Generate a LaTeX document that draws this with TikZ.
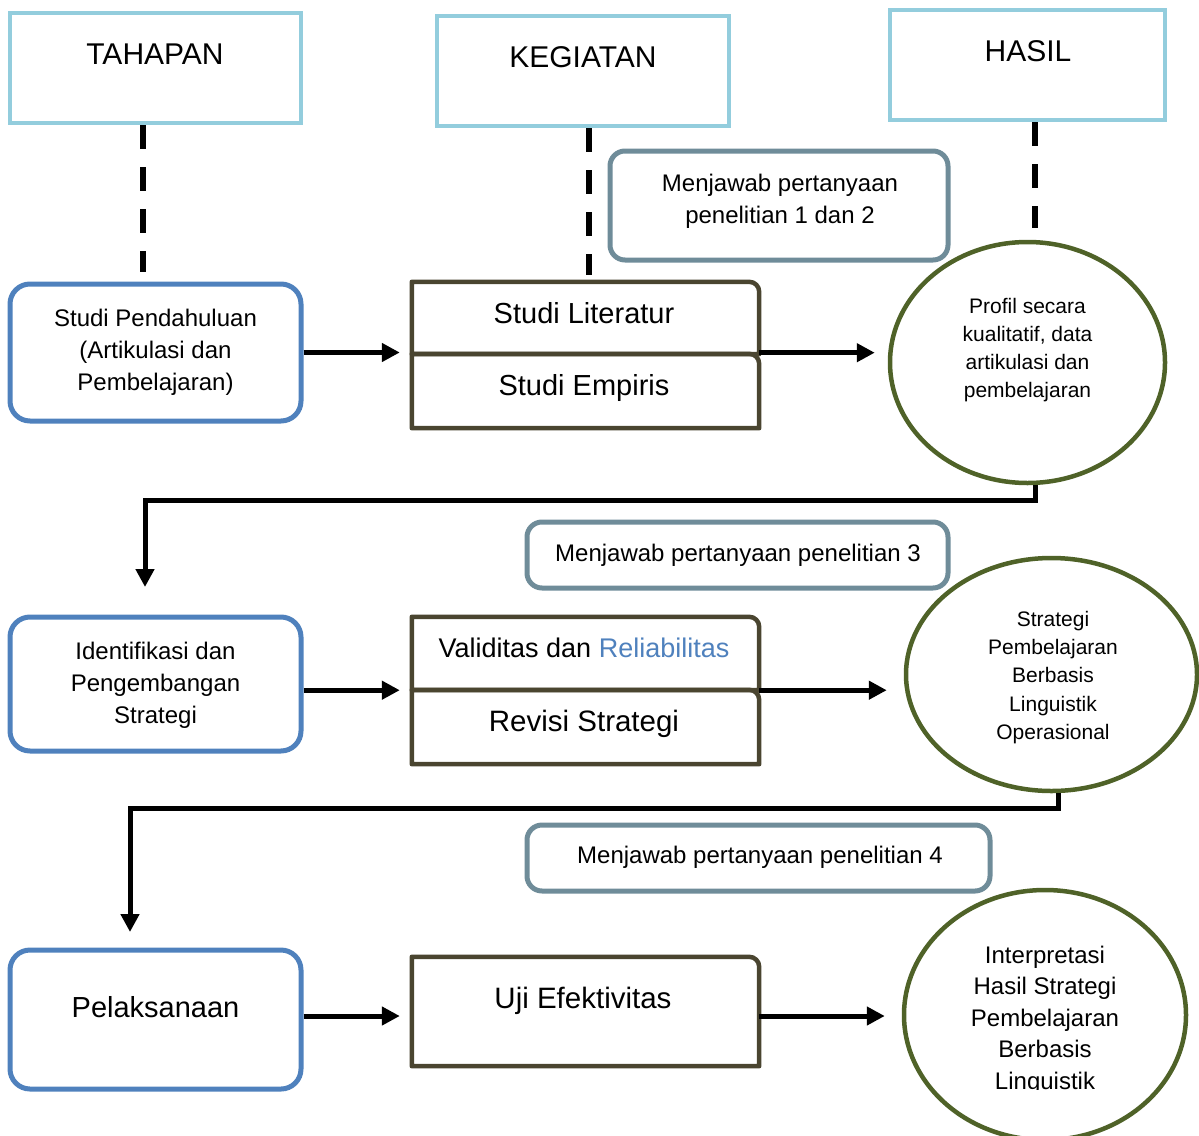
\documentclass[tikz,border=0pt]{standalone}
\usepackage{fontspec}
\setmainfont{Liberation Sans}
\usetikzlibrary{arrows.meta,shapes.geometric}
\definecolor{hdrblue}{HTML}{93CDDD}
\definecolor{boxblue}{HTML}{4F81BD}
\definecolor{qgray}{HTML}{6F8C99}
\definecolor{brn}{HTML}{4A4530}
\definecolor{olive}{HTML}{4F6228}
\definecolor{relblue}{HTML}{4F81BD}
\tikzset{
  hdr/.style={draw=hdrblue, line width=4pt, inner sep=0pt},
  stagebox/.style={draw=boxblue, line width=5pt, rounded corners=20pt, inner sep=0pt},
  qbox/.style={draw=qgray, line width=5pt, rounded corners=15pt, inner sep=0pt},
  actbox/.style={inner sep=0pt},
  actline/.style={draw=brn, line width=4.5pt, line join=round},
  result/.style={draw=olive, line width=4.5pt, ellipse, inner sep=0pt},
  txt/.style={inner sep=0pt, align=center},
  f30/.style={font=\fontsize{30}{35}\selectfont},
  f29/.style={font=\fontsize{29}{35}\selectfont},
  f24/.style={font=\fontsize{24}{32}\selectfont},
  f21/.style={font=\fontsize{21}{28.2}\selectfont},
  e24/.style={font=\fontsize{24}{31.5}\selectfont},
  dashline/.style={line width=6pt, dash pattern=on 24pt off 18pt},
  arr/.style={line width=5pt, -{Triangle[length=18pt,width=18pt]}},
}
\begin{document}
\begin{tikzpicture}[x=1pt,y=-1pt]
\useasboundingbox (0,0) rectangle (1199,1135);
\clip (0,0) rectangle (1199,1135);

% headers
\node[hdr, minimum width=291pt, minimum height=110pt] (tah) at (155.5,68) {};
\node[txt, f30] (tahT) at (155,54) {TAHAPAN};
\node[hdr, minimum width=292pt, minimum height=110pt] (keg) at (583,71) {};
\node[txt, f30] (kegT) at (583,57) {KEGIATAN};
\node[hdr, minimum width=275pt, minimum height=110pt] (has) at (1027.5,65) {};
\node[txt, f30] (hasT) at (1028,51) {HASIL};

% stage boxes
\node[stagebox, minimum width=291pt, minimum height=137pt] (pend) at (155.5,352.5) {};
\node[txt, f24] (pendT) at (155.5,352) {Studi Pendahuluan\\(Artikulasi dan\\Pembelajaran)};
\node[stagebox, minimum width=291pt, minimum height=134pt] (iden) at (155.5,684) {};
\node[txt, f24] (idenT) at (155.5,685) {Identifikasi dan\\Pengembangan\\Strategi};
\node[stagebox, minimum width=291pt, minimum height=139pt] (pel) at (155.5,1019.5) {};
\node[txt, f29] (pelT) at (155.5,1007) {Pelaksanaan};

% dashed links
\coordinate (d1) at (143,272);
\coordinate (d2) at (589,275);
\coordinate (d3) at (1035,228);
\draw[dashline] (tah.south -| d1) -- (d1);
\draw[dashline] (keg.south -| d2) -- (d2);
\draw[dashline] (has.south -| d3) -- (d3);

% question boxes
\node[qbox, minimum width=338pt, minimum height=109pt] (q1) at (779,205.5) {};
\node[txt, f24] (q1T) at (780,201) {Menjawab pertanyaan\\penelitian 1 dan 2};
\node[qbox, minimum width=421pt, minimum height=66pt] (q3) at (737.5,555) {};
\node[txt, f24] (q3T) at (738,555) {Menjawab pertanyaan penelitian 3};
\node[qbox, minimum width=463pt, minimum height=66pt] (q4) at (758.5,858) {};
\node[txt, f24] (q4T) at (760,857) {Menjawab pertanyaan penelitian 4};

% activity boxes
\node[actbox, minimum width=347pt, minimum height=72pt] (lit) at (585.5,318) {};
\node[actbox, minimum width=347pt, minimum height=74pt] (emp) at (585.5,391) {};
\node[actbox, minimum width=347pt, minimum height=73pt] (val) at (585.5,653.5) {};
\node[actbox, minimum width=347pt, minimum height=74pt] (rev) at (585.5,727) {};
\node[actbox, minimum width=347pt, minimum height=109pt] (uji) at (585.5,1011.5) {};
\foreach \b in {lit,emp,val,rev,uji}{
  \draw[actline] (\b.south west) -- (\b.north west) -- ([xshift=-10pt]\b.north east)
    arc[start angle=90, end angle=0, radius=10pt] -- (\b.south east) -- cycle;
}
\node[txt, f29] (litT) at (584,313) {Studi Literatur};
\node[txt, f29] (empT) at (584,388) {Studi Empiris};
\node[txt, font=\fontsize{27}{32}\selectfont] (valT) at (584,648) {Validitas dan \textcolor{relblue}{Reliabilitas}};
\node[txt, font=\fontsize{29.5}{35}\selectfont] (revT) at (584,724) {Revisi Strategi};
\node[txt, font=\fontsize{29.5}{35}\selectfont] (ujiT) at (583,1001) {Uji Efektivitas};

% result ellipses
\node[result, minimum width=275pt, minimum height=241pt] (e1) at (1027.5,362.5) {};
\node[txt, f21] (e1T) at (1027.5,350) {Profil secara\\kualitatif, data\\artikulasi dan\\pembelajaran};
\node[result, minimum width=291pt, minimum height=233pt] (e2) at (1051.5,674.5) {};
\node[txt, f21] (e2T) at (1053,677.5) {Strategi\\Pembelajaran\\Berbasis\\Linguistik\\Operasional};
\node[result, minimum width=282pt, minimum height=250pt] (e3) at (1045,1015) {};
\begin{scope}
\clip (900,930) rectangle (1199,1089.5);
\node[txt, e24] (e3T) at (1045,1020) {Interpretasi\\Hasil Strategi\\Pembelajaran\\Berbasis\\Linguistik};
\end{scope}

% horizontal arrows
\coordinate (row3) at (0,1016);
\draw[arr] (pend.east) -- ([xshift=-12pt]pend.east -| lit.west);
\draw[arr] ([yshift=1.5pt]lit.south east) -- ([xshift=-13pt,yshift=1.5pt]lit.south east -| e1.west);
\draw[arr] (iden.east |- val.south) -- ([xshift=-12pt]val.south west);
\draw[arr] (val.south east) -- ([xshift=-17pt]val.south east -| e2.west);
\draw[arr] (pel.east |- row3) -- ([xshift=-12pt]row3 -| uji.west);
\draw[arr] (uji.east |- row3) -- ([xshift=-17pt]row3 -| e3.west);

% return connectors
\coordinate (r1a) at (1035,500);
\coordinate (r1b) at (145,587);
\draw[arr, line join=miter] (e1.south -| r1a) -- (r1a) -| (r1b);
\coordinate (r2a) at (1058,808);
\coordinate (r2b) at (130,932);
\draw[arr, line join=miter] (e2.south -| r2a) -- (r2a) -| (r2b);
\end{tikzpicture}
\end{document}
